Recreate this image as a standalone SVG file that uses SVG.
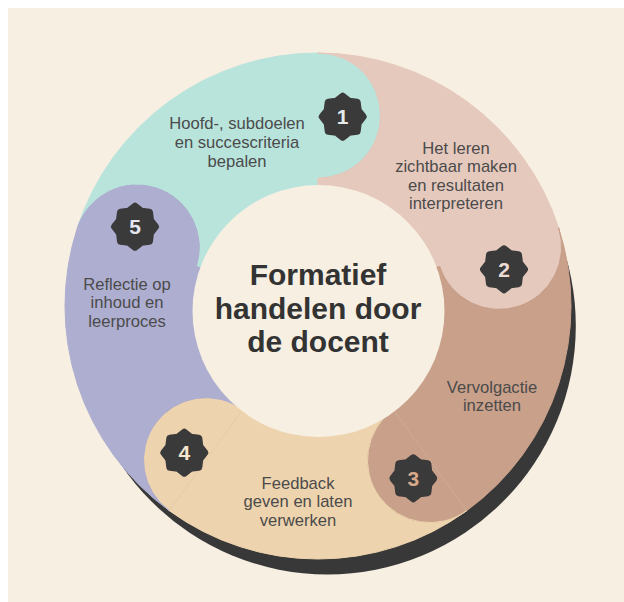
<svg xmlns="http://www.w3.org/2000/svg" xmlns:xlink="http://www.w3.org/1999/xlink" width="624" height="602" viewBox="0 0 624 602">
<defs>
<style>
.lbl{font-family:"Liberation Sans",Arial,sans-serif;font-size:16.6px;fill:#4b4b4b;text-anchor:middle}
.title{font-family:"Liberation Sans",Arial,sans-serif;font-size:30px;font-weight:bold;fill:#333333;text-anchor:middle}
.num{font-family:"Liberation Sans",Arial,sans-serif;font-size:21px;font-weight:bold;text-anchor:middle}
.badge{fill:#3a3a3a;stroke:#3a3a3a;stroke-width:7;stroke-linejoin:round}
.seam{stroke-width:1;fill:none}
</style>
<path id="star" d="M20.5,0 L15.5,6.42 L14.5,14.5 L6.42,15.5 L0,20.5 L-6.42,15.5 L-14.5,14.5 L-15.5,6.42 L-20.5,0 L-15.5,-6.42 L-14.5,-14.5 L-6.42,-15.5 L0,-20.5 L6.42,-15.5 L14.5,-14.5 L15.5,-6.42 Z"/>
</defs>
<rect x="0" y="0" width="624" height="602" fill="#ffffff"/>
<rect x="8" y="8" width="616" height="594" fill="#f6efe2"/>
<circle id="shadow" cx="327.3" cy="325.9" r="248.5" fill="#383838"/>
<g id="seg1">
<path d="M77.38,227.82 A253,253 0 0 1 318,53 A62.5,62.5 0 0 1 318,178 L318,186 A120,120 0 0 0 203.87,268.92 L196.26,266.45 A62.5,62.5 0 0 0 77.38,227.82 Z" fill="#b9e4dc" stroke="#b9e4dc" stroke-width="1"/>
</g>
<g id="seg2">
<path d="M318,53 A253,253 0 0 1 558.62,227.82 A62.5,62.5 0 0 1 439.74,266.45 L432.13,268.92 A120,120 0 0 0 318,186 L318,178 A62.5,62.5 0 0 0 318,53 Z" fill="#e6c9bd" stroke="#e6c9bd" stroke-width="1"/>
</g>
<g id="seg3">
<path d="M558.62,227.82 A253,253 0 0 1 466.71,510.68 A62.5,62.5 0 0 1 393.24,409.55 L388.53,403.08 A120,120 0 0 0 432.13,268.92 L439.74,266.45 A62.5,62.5 0 0 0 558.62,227.82 Z" fill="#c9a08a" stroke="#c9a08a" stroke-width="1"/>
<line class="seam" x1="393.24" y1="409.55" x2="466.71" y2="510.68" stroke="#ffffff" stroke-opacity="0.12"/>
</g>
<g id="seg4">
<path d="M466.71,510.68 A253,253 0 0 1 169.29,510.68 A62.5,62.5 0 0 1 242.76,409.55 L247.47,403.08 A120,120 0 0 0 388.53,403.08 L393.24,409.55 A62.5,62.5 0 0 0 466.71,510.68 Z" fill="#eed4ae" stroke="#eed4ae" stroke-width="1"/>
<line class="seam" x1="242.76" y1="409.55" x2="169.29" y2="510.68" stroke="#000000" stroke-opacity="0.04"/>
</g>
<g id="seg5">
<path d="M169.29,510.68 A253,253 0 0 1 77.38,227.82 A62.5,62.5 0 0 1 196.26,266.45 L203.87,268.92 A120,120 0 0 0 247.47,403.08 L242.76,409.55 A62.5,62.5 0 0 0 169.29,510.68 Z" fill="#aeaed0" stroke="#aeaed0" stroke-width="1"/>
</g>
<g id="center">
<circle cx="318.5" cy="311" r="126" fill="#f6efe2"/>
<text class="title" x="318" y="285">Formatief</text>
<text class="title" x="318" y="318.5">handelen door</text>
<text class="title" x="318" y="351.5">de docent</text>
</g>
<g id="node1">
<use href="#star" class="badge" x="342.7" y="116.7"/>
<text class="num" x="342.7" y="124.2" fill="#e4ebe8">1</text>
<text class="lbl" x="237" y="129.3">Hoofd-, subdoelen</text>
<text class="lbl" x="237" y="148.3">en succescriteria</text>
<text class="lbl" x="237" y="167">bepalen</text>
</g>
<g id="node2">
<use href="#star" class="badge" x="504" y="269.3"/>
<text class="num" x="504" y="276.8" fill="#ecdcd4">2</text>
<text class="lbl" x="456" y="154">Het leren</text>
<text class="lbl" x="456" y="172.3">zichtbaar maken</text>
<text class="lbl" x="456" y="190.6">en resultaten</text>
<text class="lbl" x="456" y="208.9">interpreteren</text>
</g>
<g id="node3">
<use href="#star" class="badge" x="413.3" y="478.3"/>
<text class="num" x="413.3" y="485.8" fill="#d9a98a">3</text>
<text class="lbl" x="492" y="392.5">Vervolgactie</text>
<text class="lbl" x="492" y="410.8">inzetten</text>
</g>
<g id="node4">
<use href="#star" class="badge" x="184.3" y="452.7"/>
<text class="num" x="184.3" y="460.2" fill="#f5e6cf">4</text>
<text class="lbl" x="298" y="489">Feedback</text>
<text class="lbl" x="298" y="507.3">geven en laten</text>
<text class="lbl" x="298" y="525.6">verwerken</text>
</g>
<g id="node5">
<use href="#star" class="badge" x="135" y="226.7"/>
<text class="num" x="135" y="234.2" fill="#e6e6f0">5</text>
<text class="lbl" x="127" y="290">Reflectie op</text>
<text class="lbl" x="127" y="308.3">inhoud en</text>
<text class="lbl" x="127" y="326.6">leerproces</text>
</g>
</svg>
